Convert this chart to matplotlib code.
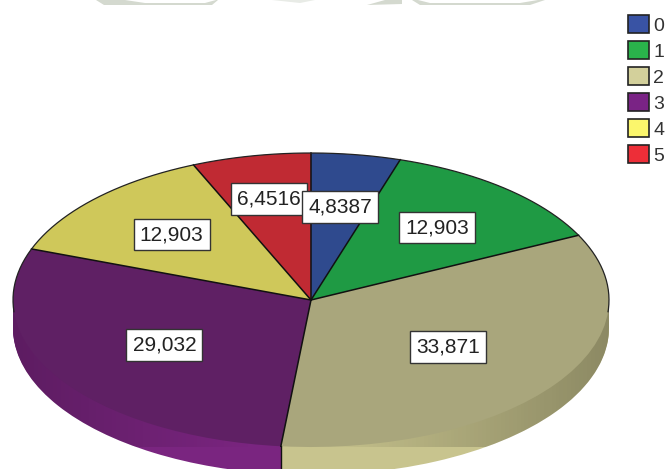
import numpy as np
import matplotlib
matplotlib.use('Agg')
import matplotlib.pyplot as plt
from matplotlib.patches import Patch, PathPatch, Polygon
from matplotlib.path import Path

plt.rcParams['font.family'] = ['Liberation Sans', 'DejaVu Sans']

categories = ['0', '1', '2', '3', '4', '5']
values = [4.8387, 12.903, 33.871, 29.032, 12.903, 6.4516]
value_labels = ['4,8387', '12,903', '33,871', '29,032', '12,903', '6,4516']
label_radius = [0.64, 0.65, 0.56, 0.58, 0.645, 0.70]

legend_colors = ['#3953a4', '#2ab34b', '#d3d09b', '#7a2385', '#fbf66c', '#ed2e38']
face_colors = ['#2f4a8e', '#1f9a44', '#a9a67c', '#5f2064', '#cfc85a', '#c02a33']
wall_colors = ['#2f4a8e', '#1f9a44', '#c8c48e', '#7a2580', '#cfc85a', '#c02a33']

depth = 0.19

fig = plt.figure(figsize=(6.65, 4.69), dpi=100)
ax = fig.add_axes([13/665, 22/469, 596/665, 294/469])

# side wall, stacked copies of the pie
for off in np.linspace(-depth, 0, 29)[:-1]:
    ax.pie(values, colors=wall_colors, startangle=90, counterclock=False,
           center=(0, off), radius=1,
           wedgeprops={'linewidth': 0, 'zorder': 1, 'clip_on': False})

ax.pie(values, colors=face_colors, startangle=90, counterclock=False,
       wedgeprops={'linewidth': 0, 'zorder': 3, 'clip_on': False})

ax.set_aspect('auto')
ax.axis('off')

# wall gets darker towards the sides
t = np.linspace(-1, 1, 300)
shade = np.zeros((1, 300, 4))
shade[0, :, 3] = np.clip(np.abs(t + 0.1) - 0.1, 0, 1) * 0.3
im = ax.imshow(shade, extent=(-1, 1, -1.3, 0), aspect='auto', zorder=2)
a = np.linspace(np.pi, 2*np.pi, 200)
hull = np.vstack([np.c_[np.cos(a), np.sin(a) - depth], [[1, 0], [-1, 0], [-1, -depth]]])
im.set_clip_path(PathPatch(Path(hull), transform=ax.transData))
ax.set_xlim(-1, 1)
ax.set_ylim(-1, 1)

# spokes and upper rim
edges = np.cumsum([0] + values) / sum(values) * 2 * np.pi
for e in edges[:-1]:
    ax.plot([0, np.sin(e)], [0, np.cos(e)], color='#111111', lw=1.1, zorder=4, clip_on=False)
b = np.linspace(-np.pi/2 - 0.08, np.pi/2 + 0.08, 200)
ax.plot(np.sin(b), np.cos(b), color='#222222', lw=0.9, zorder=4, clip_on=False)
ax.plot([np.sin(edges[3])]*2, [np.cos(edges[3]), np.cos(edges[3]) - depth],
        color='#111111', lw=1.0, zorder=4, clip_on=False)

# labels, reversed so the blue box sits on top of the red one
mids = (edges[:-1] + edges[1:]) / 2
for i in range(5, -1, -1):
    ax.text(label_radius[i]*np.sin(mids[i]), label_radius[i]*np.cos(mids[i]), value_labels[i],
            fontsize=15, color='#222222', ha='center', va='center', zorder=5 + (5 - i)*0.1,
            bbox={'boxstyle': 'square,pad=0.3', 'facecolor': 'white',
                  'edgecolor': '#333333', 'linewidth': 1.0})

handles = [Patch(facecolor=c, edgecolor='#222222', linewidth=1.2) for c in legend_colors]
fig.legend(handles, categories, loc='upper left', bbox_to_anchor=(628/665, 1 - 15/469),
           frameon=False, fontsize=14, handlelength=1.07, handleheight=1.07,
           handletextpad=0.22, labelspacing=0.32, borderpad=0, borderaxespad=0,
           labelcolor='#333333')

# cut off scraps of a watermark along the top edge
scraps = [
    ([(96, 0), (104, 5), (212, 5), (218, 0)], '#d4d9cf'),
    ([(125, 0), (145, 3), (205, 3), (216, 0)], '#ffffff'),
    ([(272, 0), (300, 3), (315, 0)], '#e8ebe6'),
    ([(367, 5), (385, 0), (402, 0), (402, 4)], '#d4d9cf'),
    ([(412, 0), (420, 5), (530, 5), (545, 0)], '#d4d9cf'),
    ([(418, 0), (430, 3), (520, 3), (538, 0)], '#ffffff'),
]
for pts, c in scraps:
    fig.add_artist(Polygon([(x/665, 1 - y/469) for x, y in pts], closed=True,
                           facecolor=c, edgecolor='none', transform=fig.transFigure))

plt.savefig('out.png', dpi=100)
